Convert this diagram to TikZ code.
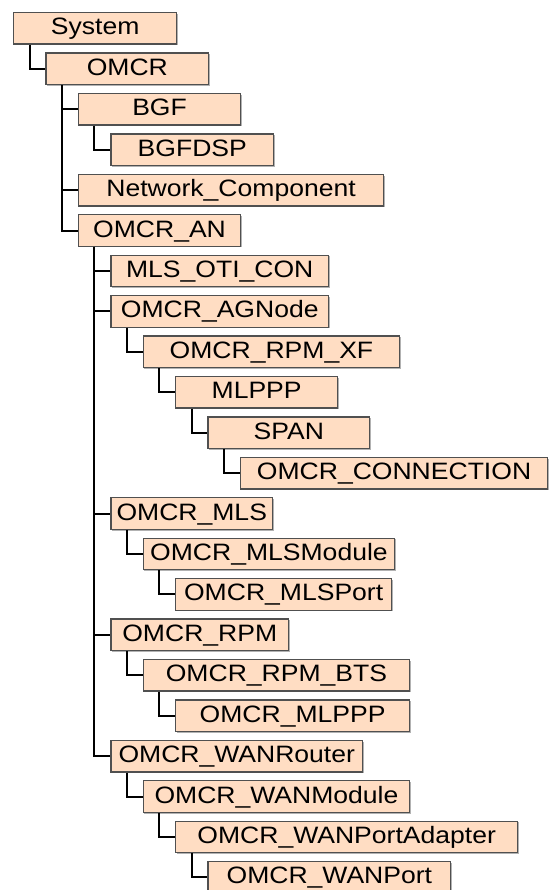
\documentclass[tikz,border=0pt]{standalone}
\usepackage{fontspec}
\usepackage{graphicx}
\setmainfont{Liberation Sans}
\usetikzlibrary{shadows}
\definecolor{peach}{RGB}{255,221,195}
\definecolor{boxline}{RGB}{80,80,80}
\newcommand{\wtx}[1]{\scalebox{1.12}[1]{#1}}
\tikzset{
  box/.style={draw=boxline, line width=1.3pt, fill=peach, rectangle, inner sep=0pt,
    minimum height=31.5pt, anchor=north west, text height=17pt, text depth=4pt,
    font=\fontsize{23.7}{26}\selectfont,
    drop shadow={shadow xshift=1.2pt, shadow yshift=-1.2pt, fill=black, opacity=0.3}},
  conn/.style={draw=black, line width=2pt}
}
\begin{document}
\begin{tikzpicture}[x=1pt,y=-1pt]
\useasboundingbox (0,0) rectangle (548,890);
\node[box, minimum width=163pt]   (n0)  at (13,12)       {\wtx{System}};
\node[box, minimum width=162.6pt] (n1)  at (45.4,52.43)  {\wtx{OMCR}};
\node[box, minimum width=162.2pt] (n2)  at (77.8,92.86)  {\wtx{BGF}};
\node[box, minimum width=162.8pt] (n3)  at (110.2,133.29) {\wtx{BGFDSP}};
\node[box, minimum width=305.2pt] (n4)  at (77.8,173.72) {\wtx{Network\_Component}};
\node[box, minimum width=162.2pt] (n5)  at (77.8,214.15) {\wtx{OMCR\_AN}};
\node[box, minimum width=217.8pt] (n6)  at (110.2,254.58) {\wtx{MLS\_OTI\_CON}};
\node[box, minimum width=217.8pt] (n7)  at (110.2,295.01) {\wtx{OMCR\_AGNode}};
\node[box, minimum width=256.4pt] (n8)  at (142.6,335.44) {\wtx{OMCR\_RPM\_XF}};
\node[box, minimum width=162pt]   (n9)  at (175,375.87)   {\wtx{MLPPP}};
\node[box, minimum width=161.6pt] (n10) at (207.4,416.3)  {\wtx{SPAN}};
\node[box, minimum width=307.2pt] (n11) at (239.8,456.73) {\wtx{OMCR\_CONNECTION}};
\node[box, minimum width=161.8pt] (n12) at (110.2,497.16) {\wtx{OMCR\_MLS}};
\node[box, minimum width=251.4pt] (n13) at (142.6,537.59) {\wtx{OMCR\_MLSModule}};
\node[box, minimum width=216pt]   (n14) at (175,578.02)   {\wtx{OMCR\_MLSPort}};
\node[box, minimum width=177.8pt] (n15) at (110.2,618.45) {\wtx{OMCR\_RPM}};
\node[box, minimum width=266.4pt] (n16) at (142.6,658.88) {\wtx{OMCR\_RPM\_BTS}};
\node[box, minimum width=234pt]   (n17) at (175,699.31)   {\wtx{OMCR\_MLPPP}};
\node[box, minimum width=251.8pt] (n18) at (110.2,739.74) {\wtx{OMCR\_WANRouter}};
\node[box, minimum width=266.4pt] (n19) at (142.6,780.17) {\wtx{OMCR\_WANModule}};
\node[box, minimum width=342pt]   (n20) at (175,820.6)    {\wtx{OMCR\_WANPortAdapter}};
\node[box, minimum width=242.6pt] (n21) at (207.4,861.03) {\wtx{OMCR\_WANPort}};
\foreach \p/\c in {n0/n1, n1/n2, n2/n3, n1/n4, n1/n5, n5/n6, n5/n7, n7/n8, n8/n9,
  n9/n10, n10/n11, n5/n12, n12/n13, n13/n14, n5/n15, n15/n16, n16/n17, n5/n18,
  n18/n19, n19/n20, n20/n21}
  \draw[conn] ([xshift=16.5pt]\p.south west) |- (\c.west);
\end{tikzpicture}
\end{document}
